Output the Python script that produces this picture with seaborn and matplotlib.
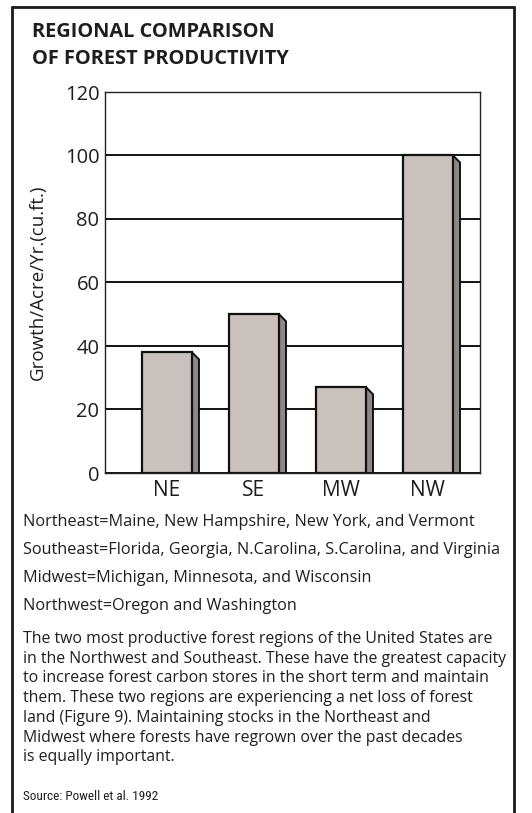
import matplotlib
matplotlib.use("Agg")
import matplotlib.pyplot as plt
from matplotlib import font_manager
from matplotlib.patches import Polygon, Rectangle
import seaborn as sns
import pandas as pd

# Average annual growth per acre by region (cu. ft.)
regions = ["NE", "SE", "MW", "NW"]
growth = [38, 50, 27, 100]
y_ticks = [0, 20, 40, 60, 80, 100, 120]

title = "REGIONAL COMPARISON\nOF FOREST PRODUCTIVITY"
y_label = "Growth/Acre/Yr.(cu.ft.)"
region_notes = [
    "Northeast=Maine, New Hampshire, New York, and Vermont",
    "Southeast=Florida, Georgia, N.Carolina, S.Carolina, and Virginia",
    "Midwest=Michigan, Minnesota, and Wisconsin",
    "Northwest=Oregon and Washington",
]
paragraph = [
    "The two most productive forest regions of the United States are",
    "in the Northwest and Southeast. These have the greatest capacity",
    "to increase forest carbon stores in the short term and maintain",
    "them. These two regions are experiencing a net loss of forest",
    "land (Figure 9). Maintaining stocks in the Northeast and",
    "Midwest where forests have regrown over the past decades",
    "is equally important.",
]
source = "Source: Powell et al. 1992"

sns.set_theme(style="white")
plt.rcParams["font.family"] = ["Open Sans", "DejaVu Sans"]

# pick a narrow face for the source line if one is installed
_fonts = font_manager.fontManager.ttflist
_names = {f.name for f in _fonts}
source_font = dict(family=["DejaVu Sans"], fontsize=8)
for cand in ["Liberation Sans Narrow", "Roboto Condensed", "Open Sans Condensed",
             "Noto Sans Condensed", "DejaVu Sans Condensed"]:
    if cand in _names:
        source_font = dict(family=[cand, "DejaVu Sans"], fontsize=9.5)
        break
else:
    if any(f.name == "DejaVu Sans" and str(f.stretch) == "condensed" for f in _fonts):
        source_font = dict(family=["DejaVu Sans"], fontstretch="condensed", fontsize=8.8)

W, H = 532, 813
fig = plt.figure(figsize=(W / 100, H / 100), dpi=100)
fig.patch.set_facecolor("white")

# outer frame (open at the bottom)
frame_kw = dict(color="#1a1a1a", lw=2.0, transform=fig.transFigure)
x0, x1, yt = 12 / W, 514 / W, 1 - 7 / H
fig.add_artist(plt.Line2D([x0, x1], [yt, yt], **frame_kw))
fig.add_artist(plt.Line2D([x0, x0], [yt, 0], **frame_kw))
fig.add_artist(plt.Line2D([x1, x1], [yt, 0], **frame_kw))

fig.text(32 / W, 1 - 22 / H, title, ha="left", va="top", fontsize=14.4,
         fontweight="bold", color="#1e1e1e", linespacing=1.5)

ax = fig.add_axes([105 / W, 1 - 473 / H, 375 / W, 381 / H])
df = pd.DataFrame({"region": regions, "growth": growth})
front = "#c9c1bd"
side = "#8e8688"
sns.barplot(data=df, x="region", y="growth", color=front, saturation=1,
            width=0.58, edgecolor="#111111", linewidth=1.6, ax=ax, zorder=3)

ax.set_xlim(-0.71, 3.60)
ax.set_ylim(0, 120)
ax.set_yticks(y_ticks)
ax.set_yticklabels([str(t) for t in y_ticks])
ax.yaxis.grid(True, color="#111111", lw=1.4, zorder=1)
ax.xaxis.grid(False)
ax.set_axisbelow(True)

# shaded right-hand side face of each bar
dx, dy = 0.08, 2.2
for p in ax.patches:
    if not isinstance(p, Rectangle):
        continue
    xr = p.get_x() + p.get_width()
    h = p.get_height()
    poly = Polygon([(xr, 0), (xr, h), (xr + dx, h - dy), (xr + dx, 0)],
                   closed=True, facecolor=side, edgecolor="#111111",
                   lw=1.4, zorder=2.9)
    ax.add_patch(poly)

for s in ax.spines.values():
    s.set_visible(True)
    s.set_color("#222222")
    s.set_linewidth(1.0)

ax.tick_params(axis="both", length=0, colors="#1e1e1e")
ax.tick_params(axis="y", pad=4, labelsize=14.5)
ax.tick_params(axis="x", pad=5, labelsize=15)
ax.set_xlabel("")
ax.set_ylabel(y_label, fontsize=13.5, color="#1e1e1e", labelpad=13)

# region definitions
for i, line in enumerate(region_notes):
    fig.text(23 / W, 1 - (522 + 28 * i) / H, line, ha="left", va="center",
             fontsize=11.7, color="#1e1e1e")

fig.text(23 / W, 1 - 631 / H, "\n".join(paragraph), ha="left", va="top",
         fontsize=11.45, color="#1e1e1e", linespacing=1.31)

fig.text(23 / W, 1 - 796 / H, source, ha="left", va="center",
         color="#1e1e1e", **source_font)

fig.savefig("out.png", dpi=100, facecolor="white")
